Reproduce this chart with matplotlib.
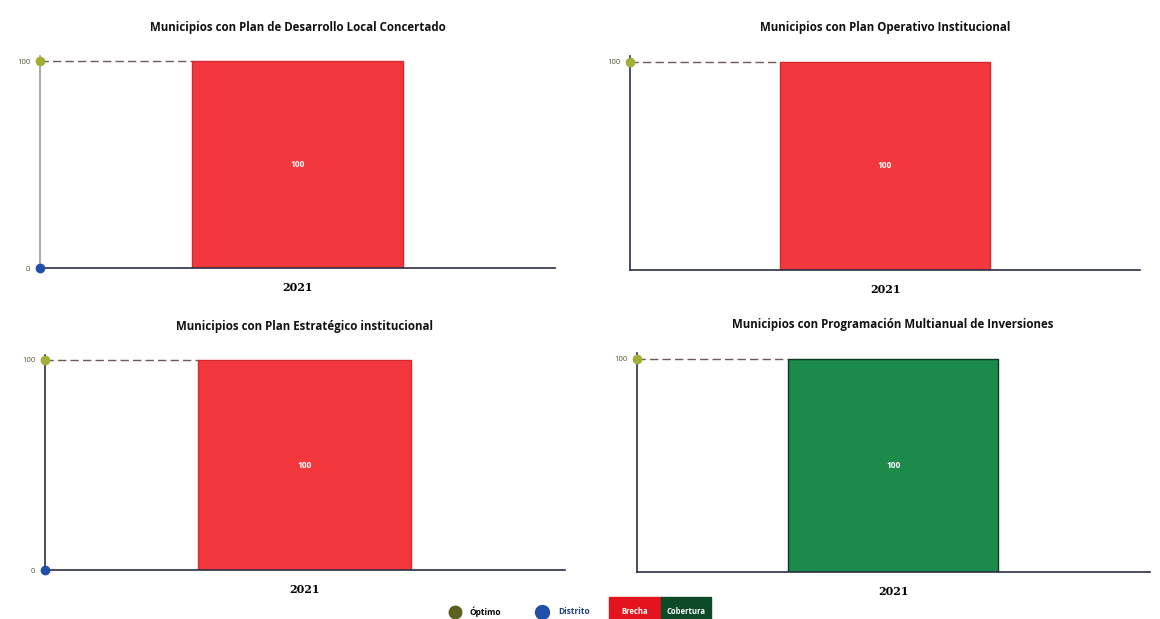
import matplotlib
matplotlib.use("Agg")
import matplotlib.pyplot as plt
import numpy as np

plt.rcParams['font.family'] = ['Open Sans', 'DejaVu Sans']

titles = [
    "Municipios con Plan de Desarrollo Local Concertado",
    "Municipios con Plan Operativo Institucional",
    "Municipios con Plan Estratégico institucional",
    "Municipios con Programación Multianual de Inversiones",
]
years = ["2021"]
optimo = [100, 100, 100, 100]
distrito = [0, np.nan, 0, 100]
valor = [100, 100, 100, 100]
tipo = ["Brecha", "Brecha", "Brecha", "Cobertura"]
yticks_list = [[0, 100], [100], [0, 100], [100]]

legend_labels = ["Óptimo", "Distrito", "Brecha", "Cobertura"]

RED = "#F2383C"
GREEN = "#1C8A4A"
OLIVE = "#A3AE3A"
BLUE = "#1F4FA8"
colors = {"Brecha": RED, "Cobertura": GREEN}
edges = {"Brecha": "#D42A2E", "Cobertura": "#0E3A20"}

fig = plt.figure(figsize=(11.6, 6.19), dpi=100)
positions = [
    [0.0345, 0.567, 0.444, 0.342],
    [0.543, 0.564, 0.440, 0.345],
    [0.0388, 0.079, 0.448, 0.348],
    [0.549, 0.076, 0.442, 0.353],
]

for i, pos in enumerate(positions):
    ax = fig.add_axes(pos)
    x = np.arange(len(years))
    ax.bar(x, [valor[i]], width=0.41, color=colors[tipo[i]],
           edgecolor=edges[tipo[i]], linewidth=1.0, zorder=2)
    ax.set_xlim(-0.5, 0.5)
    ax.set_ylim(0, 102.5)
    left = ax.get_xlim()[0]
    # dashed reference from axis to bar
    ax.plot([left, x[0] - 0.205], [optimo[i], optimo[i]], ls=(0, (6, 3)),
            color="#6b5a55", lw=1.0, zorder=1)
    ax.plot([left], [optimo[i]], marker="o", ms=6, color=OLIVE,
            clip_on=False, zorder=5)
    if not np.isnan(distrito[i]) and distrito[i] < optimo[i]:
        ax.plot([left], [distrito[i]], marker="o", ms=6, color=BLUE,
                clip_on=False, zorder=5)
    ax.text(x[0], valor[i] / 2, str(valor[i]), ha="center", va="center",
            color="white", fontsize=6, fontweight="bold", zorder=3)
    ax.set_xticks(x)
    ax.set_xticklabels(years, fontsize=8, fontweight="bold",
                       family=["DejaVu Serif"])
    ax.tick_params(axis="x", length=0, pad=10)
    ax.set_yticks(yticks_list[i])
    ax.set_yticklabels([str(t) for t in yticks_list[i]], fontsize=5.5,
                       color="#555533")
    ax.tick_params(axis="y", length=0, pad=7)
    for s in ["top", "right"]:
        ax.spines[s].set_visible(False)
    ax.spines["left"].set_color("#2b2f45" if i != 0 else "#9a9aa0")
    ax.spines["bottom"].set_color("#2b2f45")
    ax.spines["left"].set_linewidth(1.2)
    ax.spines["bottom"].set_linewidth(1.2)
    ax.set_title(titles[i], fontsize=8.3, fontweight="bold", pad=18,
                 color="#111111")

# legend
fy = 0.012
fig.lines.append(plt.Line2D([455 / 1160], [fy], marker="o", ms=9, color="#5a6020",
                            transform=fig.transFigure, ls=""))
fig.text(470 / 1160, fy, legend_labels[0], fontsize=6, fontweight="bold",
         va="center", ha="left")
fig.lines.append(plt.Line2D([542 / 1160], [fy], marker="o", ms=10, color=BLUE,
                            transform=fig.transFigure, ls=""))
fig.text(558 / 1160, fy, legend_labels[1], fontsize=6, fontweight="bold",
         va="center", ha="left", color="#1F3F88")
fig.patches.append(plt.Rectangle((609 / 1160, 0), 52 / 1160, 22 / 619,
                                 transform=fig.transFigure, color="#E3141E"))
fig.patches.append(plt.Rectangle((661 / 1160, 0), 50 / 1160, 22 / 619,
                                 transform=fig.transFigure, color="#0D4A28"))
fig.text(635 / 1160, fy, legend_labels[2], fontsize=5.5, fontweight="bold",
         va="center", ha="center", color="white")
fig.text(686 / 1160, fy, legend_labels[3], fontsize=5.5, fontweight="bold",
         va="center", ha="center", color="white")

fig.savefig("out.png", dpi=100)
